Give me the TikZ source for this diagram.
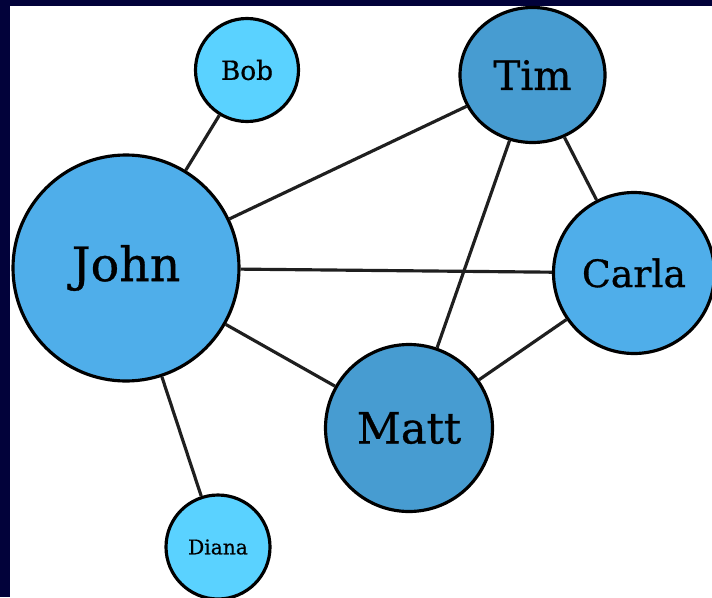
\documentclass[tikz,border=0pt]{standalone}
\usepackage{fontspec}
\setmainfont{DejaVu Serif}[BoldFont={DejaVu Serif}, BoldFeatures={FakeBold=0.7}]
\usetikzlibrary{shapes.geometric}
\definecolor{azul}{HTML}{4FAEEA}
\definecolor{azuloscuro}{HTML}{479CD1}
\definecolor{celeste}{HTML}{5AD2FF}
\definecolor{marino}{HTML}{02023A}
\tikzset{
  persona/.style={circle, draw=black, line width=1.8pt, inner sep=0pt, align=center},
  centro/.style={persona, fill=azul},
  puente/.style={persona, fill=azuloscuro},
  borde/.style={persona, fill=celeste},
  enlace/.style={draw=black!88, line width=1.8pt},
}

\begin{document}
\begin{tikzpicture}
          \useasboundingbox (0,0) rectangle (14.24,11.94);
          \fill[marino] (0,0) rectangle (14.24,11.94);
          \fill[white] (0.2,0) rectangle (14.24,11.82);
          \node[centro, minimum size=4.52cm, font=\fontsize{27}{30}\selectfont\bfseries] (john) at (2.52,6.58) {John};
          \node[borde, minimum size=2.06cm, font=\fontsize{15}{17}\selectfont\bfseries] (bob) at (4.94,10.54) {Bob};
          \node[puente, ellipse, minimum width=2.9cm, minimum height=2.7cm, font=\fontsize{23}{26}\selectfont\bfseries] (tim) at (10.65,10.44) {Tim};
          \node[centro, minimum size=3.22cm, font=\fontsize{21.5}{24}\selectfont\bfseries] (carla) at (12.68,6.48) {Carla};
          \node[puente, minimum size=3.34cm, font=\fontsize{24.5}{28}\selectfont\bfseries] (matt) at (8.18,3.38) {Matt};
          \node[borde, minimum size=2.08cm, font=\fontsize{11.5}{13}\selectfont\bfseries] (diana) at (4.36,1.0) {Diana};
          \draw[enlace] (john) -- (bob);
          \draw[enlace] (john) -- (tim);
          \draw[enlace] (john) -- (carla);
          \draw[enlace] (john) -- (matt);
          \draw[enlace] (john) -- (diana);
          \draw[enlace] (tim) -- (carla);
          \draw[enlace] (tim) -- (matt);
          \draw[enlace] (matt) -- (carla);
        \end{tikzpicture}
\end{document}
